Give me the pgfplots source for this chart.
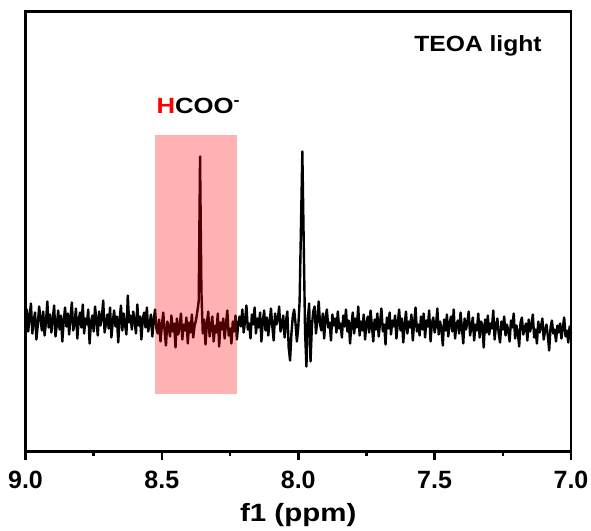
\documentclass[border=0pt]{standalone}
\usepackage{pgfplots}
\pgfplotsset{compat=1.18}
\usepackage{pgfplotstable}
\usepackage{fontspec}
\setmainfont{Liberation Sans}
\pgfplotstableread{
y
128
142
120
135
148
118
131
139
112
126
145
133
121
140
116
129
150
124
137
119
132
146
115
127
141
122
136
110
130
144
125
138
117
134
149
121
128
143
113
131
139
124
147
118
133
127
142
108
129
136
120
145
131
116
140
126
134
151
119
128
137
123
144
114
130
141
125
135
109
132
146
121
138
127
117
156
129
136
122
140
131
118
147
126
135
112
133
139
124
144
120
128
137
115
131
142
123
118
132
110
126
139
121
106
130
124
115
136
120
128
104
133
117
125
138
112
127
121
134
108
129
119
137
114
126
131
140
150
295
160
118
132
107
128
140
115
124
135
110
126
119
138
105
129
122
133
113
127
141
116
123
108
130
120
136
112
128
135
125
142
119
131
146
122
128
113
137
127
144
118
133
124
139
110
130
141
121
134
116
129
143
125
111
138
127
132
145
120
126
136
114
130
140
104
91
118
135
142
128
110
124
150
225
300
210
120
85
132
148
90
125
140
145
118
132
150
127
121
138
113
134
142
124
129
111
137
126
133
119
140
123
128
114
136
125
142
120
131
108
127
139
118
133
124
145
116
130
121
137
112
128
135
119
141
126
110
132
122
138
115
129
143
120
127
107
134
123
139
117
131
125
136
113
128
142
121
133
109
126
140
118
130
124
137
111
129
144
120
127
116
135
122
138
114
131
125
141
110
128
134
119
126
143
117
130
123
106
132
121
137
115
128
135
120
142
113
127
131
118
139
124
108
133
122
129
140
116
125
134
111
127
121
138
114
130
126
104
132
119
136
117
128
123
141
112
126
133
118
109
130
122
135
116
127
121
110
131
124
138
113
126
119
105
129
134
117
123
128
111
132
120
126
137
114
122
108
130
119
125
133
112
121
127
116
101
124
131
118
122
110
126
119
128
113
124
134
115
121
109
125
118
}\spectrum
\begin{document}
\begin{tikzpicture}
\begin{axis}[
  scale only axis,
  width=545.5pt, height=440pt,
  x dir=reverse,
  xmin=7, xmax=9, ymin=0, ymax=440,
  xtick={7,7.5,8,8.5,9},
  minor x tick num=1,
  ytick=\empty,
  axis line style={line width=2.8pt},
  every tick/.style={black, line width=2.6pt},
  major tick length=8pt,
  minor tick length=4pt,
  tick align=outside,
  xtick pos=bottom,
  /pgf/number format/assume math mode=true,
  xticklabel style={font=\fontsize{25}{27}\selectfont\bfseries, /pgf/number format/fixed, /pgf/number format/fixed zerofill, /pgf/number format/precision=1, yshift=-8pt},
  xlabel={\scalebox{1.18}[1]{f1 (ppm)}},
  xlabel style={font=\fontsize{25}{27}\selectfont\bfseries, yshift=-8pt},
  clip=false,
]
\addplot[black, line width=2.4pt, line join=round] table[x expr=9-\coordindex*0.005, y=y] {\spectrum};
\fill[red, opacity=0.3] (axis cs:8.525,58) rectangle (axis cs:8.225,316);
\node[font=\fontsize{22}{24}\selectfont\bfseries] at (axis cs:7.341,406) {\scalebox{1.12}[1]{TEOA light}};
\node[font=\fontsize{22}{24}\selectfont\bfseries] at (axis cs:8.366,346) {\scalebox{1.17}[1]{\textcolor{red}{H}COO\textsuperscript{-}}};
\end{axis}
\pgfresetboundingbox
\path[use as bounding box] ([xshift=-25.5pt,yshift=-78.5pt]current axis.south west) rectangle ([xshift=20pt,yshift=11.5pt]current axis.north east);
\end{tikzpicture}
\end{document}
